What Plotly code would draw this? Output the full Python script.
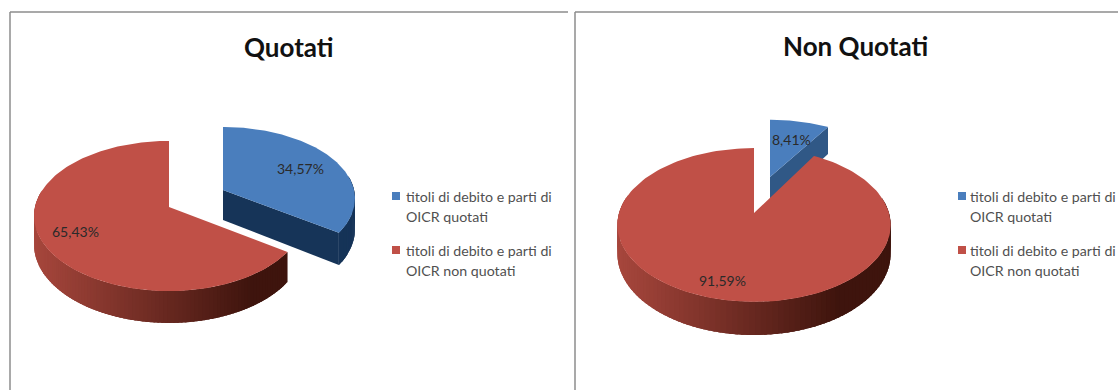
import numpy as np
import plotly.graph_objects as go

# Shares per panel, in percent
titles = ["Quotati", "Non Quotati"]
categories = [["titoli di debito e parti di", "OICR quotati"],
              ["titoli di debito e parti di", "OICR non quotati"]]
quotati_values = [34.57, 65.43]
non_quotati_values = [8.41, 91.59]

FONT = "Lato"
BLUE_TOP = "rgb(74,126,189)"
RED_TOP = "rgb(192,80,71)"
WALL_LEFT = np.array([166, 70, 60])
WALL_RIGHT = np.array([62, 20, 13])
BLUE_WALL = {"Quotati": "rgb(22,52,88)", "Non Quotati": "rgb(48,88,134)"}

# Per-slice projection: apex x/y, half width, half height, perspective, depth
SLICE_GEOM = {
    ("Quotati", 0): dict(ax=223, ay=190, A=131, B=70.6, k=0.12, d=30),
    ("Quotati", 1): dict(ax=169, ay=207, A=134, B=74, k=0.12, d=28),
    ("Non Quotati", 0): dict(ax=770, ay=177, A=127, B=64, k=0.12, d=30),
    ("Non Quotati", 1): dict(ax=754, ay=213, A=135, B=75, k=0.156, d=28),
}
LABEL_POS = {
    ("Quotati", 0): (300, 168), ("Quotati", 1): (75, 231),
    ("Non Quotati", 0): (791, 139), ("Non Quotati", 1): (722, 280),
}
TITLE_POS = {"Quotati": (289, 47), "Non Quotati": (855, 46)}
LEGEND_POS = {"Quotati": (392, 404), "Non Quotati": (958, 968)}
LEGEND_ROWS = [196, 250]
LEGEND_LINE = 20


def project(theta, g, lift=0.0):
    """Map a clockwise angle from twelve o'clock onto the tilted pie plane."""
    u, v = np.sin(theta), np.cos(theta)
    w = 1 + g["k"] * v
    x = g["ax"] + g["A"] * u / w
    y = g["ay"] - g["B"] * v / w + lift * g["d"] / w
    return x, y


def poly(fig, xs, ys, color):
    fig.add_trace(go.Scatter(
        x=list(xs), y=list(ys), mode="lines", fill="toself", fillcolor=color,
        line=dict(color=color, width=0), hoverinfo="skip", showlegend=False))


def draw_slice(fig, panel, idx, start, end):
    g = SLICE_GEOM[(panel, idx)]
    thetas = np.linspace(start, end, 160)
    step = thetas[1] - thetas[0]

    # Outer wall: overlapping narrow strips so the shading runs along the rim
    xmin, xmax = g["ax"] - g["A"], g["ax"] + g["A"]
    for t0 in thetas[:-1]:
        t1 = min(t0 + 2.5 * step, end)
        if np.cos(t0 + step / 2) > 0.2:
            continue
        x0, y0 = project(t0, g)
        x1, y1 = project(t1, g)
        x0b, y0b = project(t0, g, 1)
        x1b, y1b = project(t1, g, 1)
        if idx == 0:
            color = BLUE_WALL[panel]
        else:
            f = np.clip(((x0 + x1) / 2 - xmin) / (xmax - xmin) / 0.8, 0, 1)
            c = WALL_LEFT + (WALL_RIGHT - WALL_LEFT) * f
            color = f"rgb({c[0]:.0f},{c[1]:.0f},{c[2]:.0f})"
        poly(fig, [x0, x1, x1b, x0b], [y0, y1, y1b, y0b], color)

    # Cut face of the detached slice, seen from the front
    if idx == 0:
        xe, ye = project(end, g)
        xeb, yeb = project(end, g, 1)
        poly(fig, [g["ax"], xe, xeb, g["ax"]],
             [g["ay"], ye, yeb, g["ay"] + g["d"]], BLUE_WALL[panel])

    # Top surface
    px, py = project(thetas, g)
    poly(fig, [g["ax"], *px, g["ax"]], [g["ay"], *py, g["ay"]],
         BLUE_TOP if idx == 0 else RED_TOP)


def pct(v):
    return f"{v:.2f}".replace(".", ",") + "%"


fig = go.Figure()

for panel, values in zip(titles, [quotati_values, non_quotati_values]):
    shares = np.array(values) / sum(values) * 2 * np.pi
    draw_slice(fig, panel, 0, 0, shares[0])
    draw_slice(fig, panel, 1, shares[0], 2 * np.pi)

    for i, v in enumerate(values):
        lx, ly = LABEL_POS[(panel, i)]
        fig.add_annotation(x=lx, y=ly, text=pct(v), showarrow=False,
                           font=dict(family=FONT, size=14, color="#2a2a2a"))

    tx, ty = TITLE_POS[panel]
    fig.add_annotation(x=tx, y=ty, text=f"<b>{panel}</b>", showarrow=False,
                       font=dict(family=FONT, size=26, color="#111111"))

    # Legend: colour key followed by a two-line caption
    kx, cx = LEGEND_POS[panel]
    for lines, color, ky in zip(categories, [BLUE_TOP, RED_TOP], LEGEND_ROWS):
        fig.add_trace(go.Scatter(
            x=[kx + 4], y=[ky], mode="markers", hoverinfo="skip", showlegend=False,
            marker=dict(symbol="square", size=8, color=color)))
        for n, line in enumerate(lines):
            fig.add_annotation(x=cx, y=ky + n * LEGEND_LINE, text=line,
                               showarrow=False, xanchor="left",
                               font=dict(family=FONT, size=14.2, color="#505050"))

# Panel frames
frame = dict(type="line", line=dict(color="#8c8c8c", width=1.5))
fig.add_shape(x0=10, x1=568, y0=12, y1=12, **frame)
fig.add_shape(x0=10, x1=10, y0=12, y1=390, **frame)
fig.add_shape(x0=575, x1=1118, y0=12, y1=12, **frame)
fig.add_shape(x0=575, x1=575, y0=12, y1=390, **frame)

fig.update_layout(
    width=1118, height=390, margin=dict(l=0, r=0, t=0, b=0),
    paper_bgcolor="white", plot_bgcolor="white", showlegend=False,
    xaxis=dict(range=[0, 1118], visible=False, fixedrange=True),
    yaxis=dict(range=[390, 0], visible=False, fixedrange=True),
)
fig.write_html("out.html", config={"displayModeBar": False})
